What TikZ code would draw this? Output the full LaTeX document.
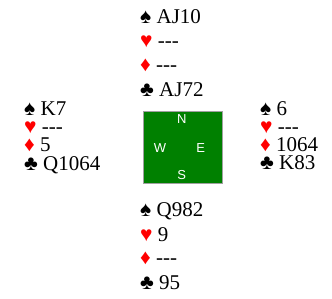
\documentclass[tikz,border=0pt]{standalone}
\usepackage{fontspec}
\setmainfont{Liberation Serif}[Ligatures=TeXOff]
\newfontfamily\compassfont{Liberation Sans}
\definecolor{feltgreen}{RGB}{0,128,0}
\definecolor{framegray}{RGB}{160,160,160}
\newcommand{\spd}{♠}
\newcommand{\hrt}{\textcolor{red}{♥}}
\newcommand{\dmd}{\textcolor{red}{♦}}
\newcommand{\clb}{♣}
\begin{document}
\begin{tikzpicture}[
        x=1pt, y=-1pt,
        hand/.style={anchor=base west, inner sep=0pt, font=\fontsize{21}{21}\selectfont},
        table/.style={draw=framegray, fill=feltgreen, line width=1pt},
        seat/.style={text=white, inner sep=0pt, font=\compassfont\fontsize{13}{13}\selectfont},
    ]
    \useasboundingbox (0,0) rectangle (332,299);
    % north
    \node[hand](n1) at (140,24){\spd{} AJ10};
    \node[hand](n2) at (140,48){\hrt{} ---};
    \node[hand](n3) at (140,72){\dmd{} ---};
    \node[hand](n4) at (140,97){\clb{} AJ72};
    % west
    \node[hand](w1) at (24,116){\spd{} K7};
    \node[hand](w2) at (24,134){\hrt{} ---};
    \node[hand](w3) at (24,152){\dmd{} 5};
    \node[hand](w4) at (24,171){\clb{} Q1064};
    % east
    \node[hand](e1) at (260,116){\spd{} 6};
    \node[hand](e2) at (260,134){\hrt{} ---};
    \node[hand](e3) at (260,152){\dmd{} 1064};
    \node[hand](e4) at (260,170){\clb{} K83};
    % south
    \node[hand](s1) at (140,217){\spd{} Q982};
    \node[hand](s2) at (140,241){\hrt{} 9};
    \node[hand](s3) at (140,265){\dmd{} ---};
    \node[hand](s4) at (140,289){\clb{} 95};
    % table
    \draw[table] (143,112) rectangle (222,184);
    \node[seat](N) at (181.7,119){N};
    \node[seat](W) at (160,147.7){W};
    \node[seat](E) at (200.7,147.7){E};
    \node[seat](S) at (181.7,175){S};
\end{tikzpicture}
\end{document}
